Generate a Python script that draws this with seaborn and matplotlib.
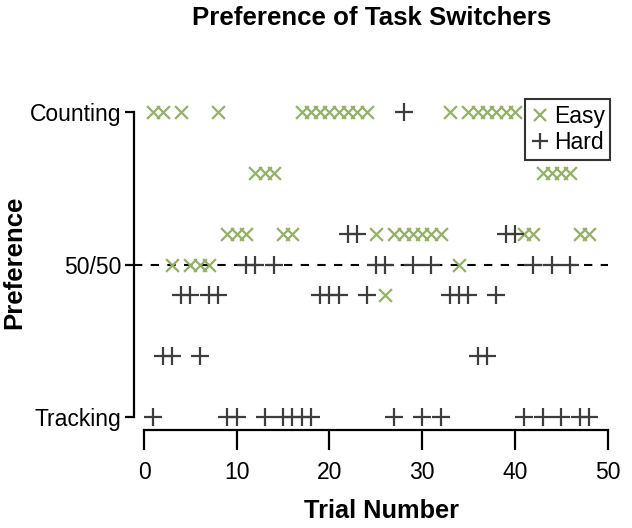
import matplotlib
matplotlib.use("Agg")
import matplotlib.pyplot as plt
from matplotlib.lines import Line2D
import seaborn as sns
import pandas as pd

# ---- data (trial numbers for each preference level) ----
ytick_values = [0.0, 0.5, 1.0]
ytick_labels = ["Tracking", "50/50", "Counting"]
xtick_values = [0, 10, 20, 30, 40, 50]

easy_pref_100 = [1, 2, 4, 8, 17, 18, 19, 20, 21, 22, 23, 24, 33, 35, 36, 37, 38, 39, 40]
easy_pref_080 = [12, 13, 14, 43, 44, 45, 46]
easy_pref_060 = [9, 10, 11, 15, 16, 25, 27, 28, 29, 30, 31, 32, 41, 42, 47, 48]
easy_pref_050 = [3, 5, 6, 7, 34]
easy_pref_040 = [26]

hard_pref_100 = [28]
hard_pref_060 = [22, 23, 39, 40]
hard_pref_050 = [11, 12, 14, 25, 26, 29, 31, 42, 44, 46]
hard_pref_040 = [4, 5, 7, 8, 19, 20, 21, 24, 33, 34, 35, 38]
hard_pref_020 = [2, 3, 6, 36, 37]
hard_pref_000 = [1, 9, 10, 13, 15, 16, 17, 18, 27, 30, 32, 41, 43, 45, 47, 48]

rows = []
for lvl, trials in [(1.0, easy_pref_100), (0.8, easy_pref_080), (0.6, easy_pref_060),
                    (0.5, easy_pref_050), (0.4, easy_pref_040)]:
    rows += [{"Trial": t, "Preference": lvl, "Condition": "Easy"} for t in trials]
for lvl, trials in [(1.0, hard_pref_100), (0.6, hard_pref_060), (0.5, hard_pref_050),
                    (0.4, hard_pref_040), (0.2, hard_pref_020), (0.0, hard_pref_000)]:
    rows += [{"Trial": t, "Preference": lvl, "Condition": "Hard"} for t in trials]
df = pd.DataFrame(rows)

GREEN = "#93b066"
DARK = "#3d3d3d"

sns.set_style("white")
plt.rcParams["font.family"] = ["Liberation Sans", "DejaVu Sans"]
plt.rcParams["text.color"] = "black"

fig = plt.figure(figsize=(6.32, 5.28), dpi=100)
ax = fig.add_axes([134 / 632, 1 - 430 / 528, (608 - 134) / 632, (430 - 99) / 528])

sns.scatterplot(data=df[df.Condition == "Easy"], x="Trial", y="Preference", marker="x",
                color=GREEN, s=85, linewidth=1.6, ax=ax, legend=False, zorder=3)
sns.scatterplot(data=df[df.Condition == "Hard"], x="Trial", y="Preference", marker="+",
                color=DARK, s=150, linewidth=1.6, ax=ax, legend=False, zorder=3)

ax.axhline(0.5, color="black", lw=1.5, ls=(0, (4, 4)), zorder=1)

ax.set_xlim(-1.08, 50.05)
ax.set_ylim(-0.042, 1.042)
for s in ["top", "right"]:
    ax.spines[s].set_visible(False)
ax.spines["left"].set_bounds(0, 1)
ax.spines["bottom"].set_bounds(0, 50)
for s in ["left", "bottom"]:
    ax.spines[s].set_linewidth(1.6)
    ax.spines[s].set_color("black")

ax.set_xticks(xtick_values)
ax.set_yticks(ytick_values)
ax.set_yticklabels(ytick_labels)
ax.tick_params(axis="both", direction="out", width=1.6, color="black",
               labelsize=16.5, labelcolor="black", bottom=True, left=True)
ax.tick_params(axis="x", length=14.4, pad=8)
ax.tick_params(axis="y", length=6.5, pad=2.5)
ax.set_xlabel("")
ax.set_ylabel("")

fig.text(372 / 632, 1 - 18 / 528, "Preference of Task Switchers", ha="center", va="center",
         fontsize=18.6, fontweight="bold", color="black")
fig.text(381 / 632, 1 - 511 / 528, "Trial Number", ha="center", va="center",
         fontsize=18.3, fontweight="bold", color="black")
fig.text(14 / 632, 1 - 262 / 528, "Preference", ha="center", va="center", rotation=90,
         fontsize=18.5, fontweight="bold", color="black")

handles = [Line2D([], [], marker="x", color=GREEN, ls="", ms=9, mew=1.6),
           Line2D([], [], marker="+", color=DARK, ls="", ms=12, mew=1.6)]
leg = ax.legend(handles, ["Easy", "Hard"], loc="upper right", bbox_to_anchor=(1.005, 1.0),
                frameon=True, fancybox=False, edgecolor="black", fontsize=16.5,
                handlelength=0.8, handletextpad=0.2, borderpad=0.25, labelspacing=0.15,
                borderaxespad=0)
leg.get_frame().set_linewidth(1.5)
for t in leg.get_texts():
    t.set_color("black")

fig.savefig("out.png", dpi=100)
